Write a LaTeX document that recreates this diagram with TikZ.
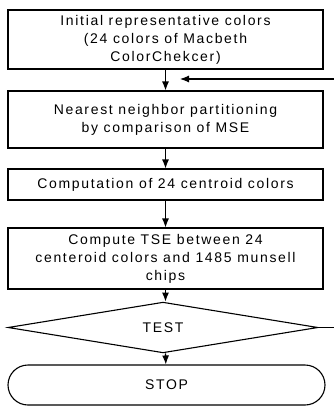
\documentclass[tikz,border=0pt]{standalone}
\usepackage{fontspec}
\setmainfont[LetterSpace=12]{Liberation Sans}
\usetikzlibrary{arrows.meta,shapes.geometric,shapes.misc}
\begin{document}
\begin{tikzpicture}[
    x=1pt, y=-1pt,
    stepbox/.style={
        rectangle,
        minimum width=315pt,
        draw=black,
        line width=1.1pt,
        font=\fontsize{14}{18}\selectfont,
        align=center,
        inner sep=0pt
    },
    testbox/.style={
        diamond,
        minimum width=310pt,
        minimum height=39pt,
        draw=black,
        line width=1.1pt,
        font=\fontsize{14}{18}\selectfont,
        inner sep=0pt
    },
    stopbox/.style={
        rounded rectangle,
        minimum width=317pt,
        minimum height=40pt,
        draw=black,
        line width=1.1pt,
        font=\fontsize{14}{18}\selectfont,
        inner sep=0pt
    },
    flow/.style={
        -{Latex[length=9pt,width=7pt]},
        line width=1.1pt
    }
]
\useasboundingbox (0,0) rectangle (334,407);

\node[stepbox, minimum height=59pt] (init) at (165.5,39.5) {Initial representative colors\\(24 colors of Macbeth\\ColorChekcer)};
\node[stepbox, minimum height=57pt] (part) at (165.5,119.5) {Nearest neighbor partitioning\\by comparison of MSE};
\node[stepbox, minimum height=31pt] (cent) at (165.5,184.5) {Computation of 24 centroid colors};
\node[stepbox, minimum height=61pt] (tse) at (165.5,258.5) {Compute TSE between 24\\centeroid colors and 1485 munsell\\chips};
\node[testbox] (test) at (163,327.5) {TEST};
\node[stopbox] (stop) at (166.5,385) {STOP};

\coordinate (turn) at (336,327.5);
\coordinate (loopin) at (180,79);

\draw[flow] (init) -- (part);
\draw[flow] (part) -- (cent);
\draw[flow] (cent) -- (tse);
\draw[flow] (tse.south) -- (tse.south |- test.north);
\draw[flow] (test.south -| tse.south) -- (stop);
\draw[flow] (test.east) -- (turn) |- (loopin);

\end{tikzpicture}
\end{document}
